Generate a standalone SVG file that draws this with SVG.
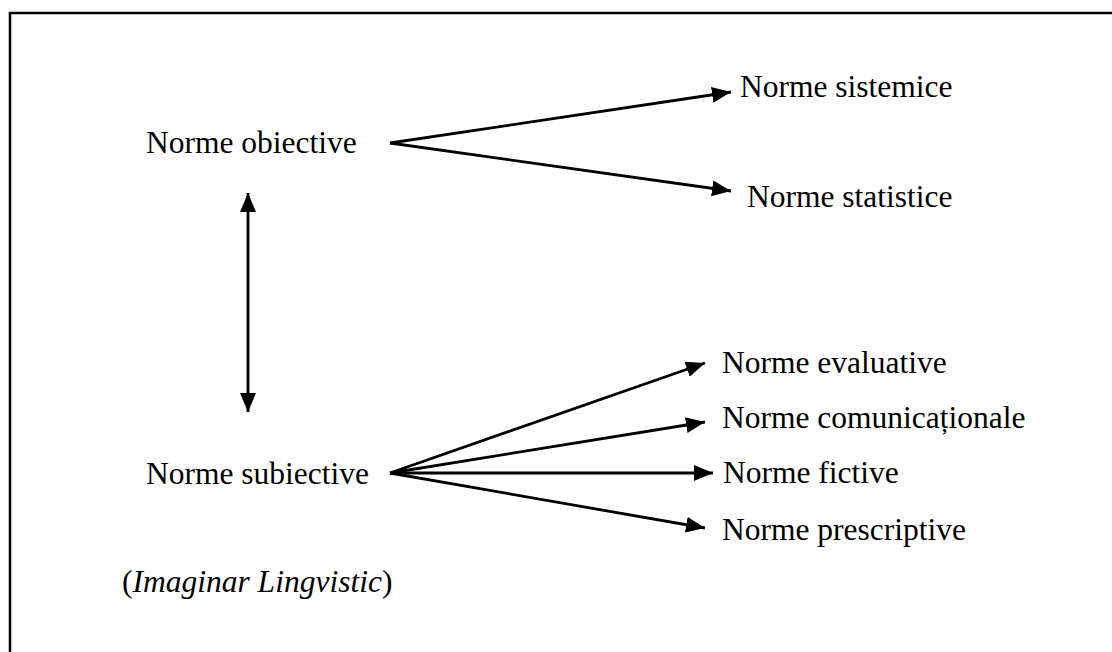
<svg xmlns="http://www.w3.org/2000/svg" width="1112" height="652" viewBox="0 0 1112 652">
<style>
.t{font-family:"Liberation Serif","Times New Roman",serif;font-size:31.5px;fill:#000}
.c{stroke:#000;stroke-width:2.8;fill:none}
.frame{stroke:#000;stroke-width:2.5;fill:none}
</style>
<defs>
<marker id="ah" markerUnits="userSpaceOnUse" markerWidth="22" markerHeight="18" refX="19" refY="8" orient="auto-start-reverse" viewBox="0 0 22 18">
<path d="M0,0 L19,8 L0,16 z" fill="#000"/>
</marker>
</defs>
<rect width="1112" height="652" fill="#fff"/>
<path class="frame" d="M10,653 V13 H1113"/>
<g id="connectors">
<line class="c" x1="390" y1="143" x2="731" y2="92" marker-end="url(#ah)"/>
<line class="c" x1="390" y1="143" x2="731" y2="191" marker-end="url(#ah)"/>
<line class="c" x1="248" y1="193" x2="248" y2="412" marker-start="url(#ah)" marker-end="url(#ah)"/>
<line class="c" x1="390" y1="473" x2="705" y2="363" marker-end="url(#ah)"/>
<line class="c" x1="390" y1="473" x2="705" y2="422" marker-end="url(#ah)"/>
<line class="c" x1="390" y1="473" x2="713" y2="473" marker-end="url(#ah)"/>
<line class="c" x1="390" y1="473" x2="705" y2="528" marker-end="url(#ah)"/>
</g>
<g id="obiective"><text class="t" x="146" y="153">Norme obiective</text></g>
<g id="sistemice"><text class="t" x="740" y="97">Norme sistemice</text></g>
<g id="statistice"><text class="t" x="747" y="207">Norme statistice</text></g>
<g id="subiective"><text class="t" x="146" y="484">Norme subiective</text></g>
<g id="evaluative"><text class="t" x="722" y="373">Norme evaluative</text></g>
<g id="comunicationale"><text class="t" x="722" y="428">Norme comunicaționale</text></g>
<g id="fictive"><text class="t" x="723" y="483">Norme fictive</text></g>
<g id="prescriptive"><text class="t" x="722" y="540">Norme prescriptive</text></g>
<g id="caption"><text class="t" x="122" y="592">(<tspan font-style="italic">Imaginar Lingvistic</tspan>)</text></g>
</svg>
